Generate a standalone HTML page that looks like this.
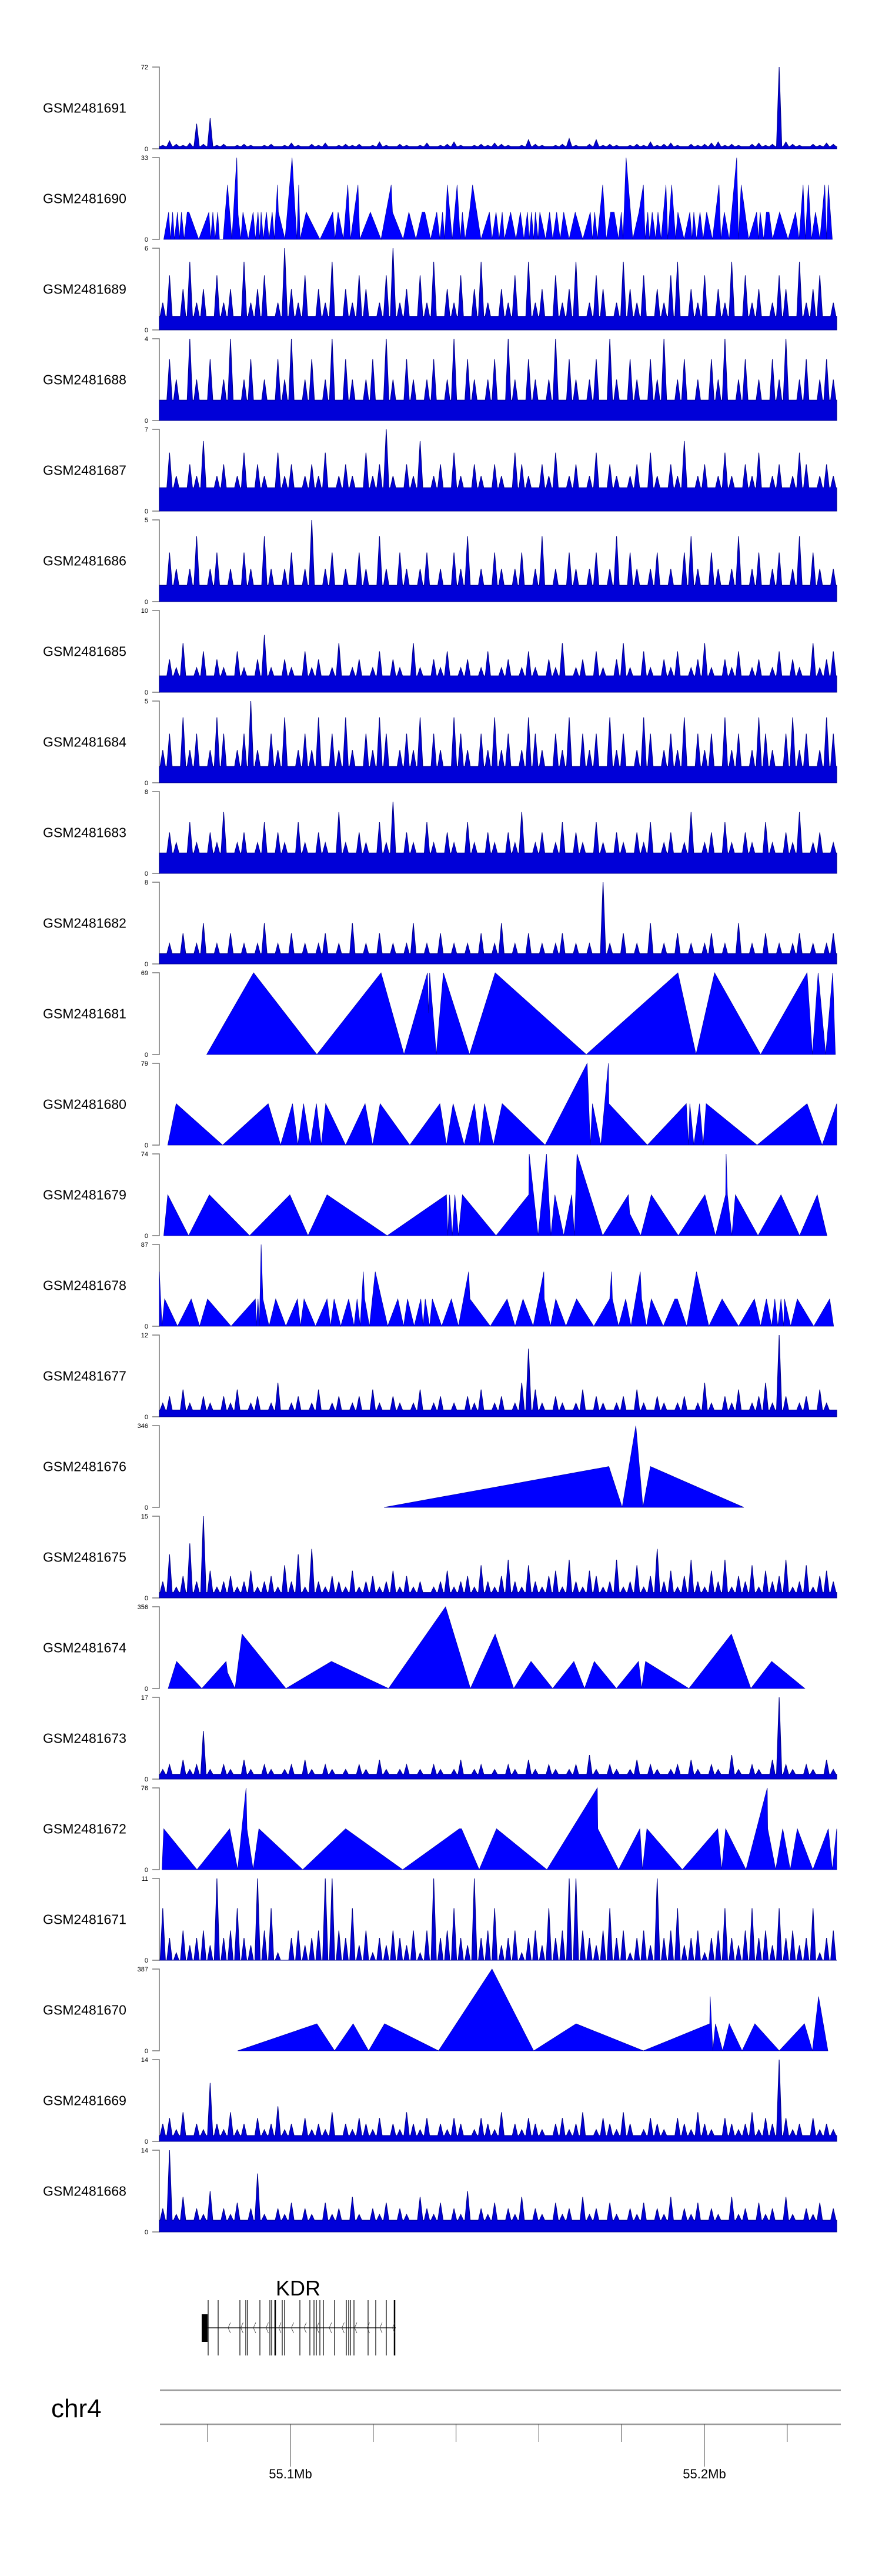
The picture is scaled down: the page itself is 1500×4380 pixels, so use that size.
<!DOCTYPE html>
<html><head><meta charset="utf-8">
<style>
html,body{margin:0;padding:0;background:#fff;}
svg{display:block;font-family:"Liberation Sans",Arial,sans-serif;}
</style></head>
<body>
<svg id="chart" width="1500" height="4380" viewBox="0 0 1500 4380" xmlns="http://www.w3.org/2000/svg">
<rect width="1500" height="4380" fill="#fff"/>
<g id="tracks"></g>
<g id="gene">
  <text x="507" y="3903" font-size="36" text-anchor="middle">KDR</text>
</g>
<g id="axis">
  <text x="87" y="4110" font-size="44">chr4</text>
  <line x1="272" y1="4064" x2="1430" y2="4064" stroke="#999" stroke-width="2.5"/>
  <line x1="272" y1="4122" x2="1430" y2="4122" stroke="#999" stroke-width="2.5"/>
</g>
</svg>
<script>
// ---------- data ----------
var trackNames = ["GSM2481691","GSM2481690","GSM2481689","GSM2481688","GSM2481687","GSM2481686","GSM2481685","GSM2481684","GSM2481683","GSM2481682","GSM2481681","GSM2481680","GSM2481679","GSM2481678","GSM2481677","GSM2481676","GSM2481675","GSM2481674","GSM2481673","GSM2481672","GSM2481671","GSM2481670","GSM2481669","GSM2481668"];
var trackMax = [72,33,6,4,7,5,10,5,8,8,69,79,74,87,12,346,15,356,17,76,11,387,14,14];
var posDomain = [14,1545];

var v1691 = [3,7,4,3,5,22,4,27,3,4,2,3,4,3,2,3,4,2,3,5,3,2,4,3,5,2,3,4,3,4,2,3,6,3,2,4,3,2,3,5,2,3,4,6,3,2,3,4,3,5,4,3,2,3,8,4,3,2,3,4,9,3,2,4,8,3,4,3,2,3,4,3,6,3,4,5,3,2,4,3,4,5,6,3,4,3,2,4,5,3,4,72,6,4,3,2,4,3,5,4];
var p1690 = [24,35,39,44,48,55,59,64,70,77,81,103,126,130,135,140,146,150,158,168,178,189,192,198,203,215,226,231,237,241,244,249,256,262,269,274,281,283,298,314,321,325,329,332,346,377,406,411,418,430,440,446,463,467,491,515,538,541,565,578,594,608,614,627,641,648,654,659,665,676,687,694,699,705,715,722,741,760,766,775,782,789,794,808,820,830,838,846,850,855,860,864,870,874,887,896,903,912,920,928,940,954,971,988,993,998,1004,1010,1016,1024,1034,1042,1052,1058,1062,1069,1084,1098,1108,1112,1118,1122,1128,1136,1141,1148,1159,1163,1172,1181,1186,1200,1213,1218,1222,1228,1236,1243,1251,1264,1279,1283,1291,1302,1319,1323,1329,1346,1364,1368,1372,1380,1386,1392,1400,1416,1435,1452,1460,1469,1474,1481,1488,1497,1507,1518,1522,1526,1535];
var v1690 = [0,11,0,11,0,11,0,11,0,11,11,0,11,0,11,0,11,0,0,22,0,33,10,0,11,0,11,0,11,0,11,0,11,0,11,0,22,11,0,33,11,0,22,0,11,0,11,0,11,0,22,0,22,0,11,0,22,11,0,11,0,11,11,0,11,0,11,0,22,0,22,0,11,0,11,22,0,11,0,11,0,11,0,11,0,11,0,11,0,11,0,11,0,11,0,11,0,11,0,11,0,11,0,11,0,11,0,11,22,0,11,11,0,11,0,33,0,11,22,0,11,0,11,0,11,0,22,0,22,0,11,0,11,0,11,0,11,0,11,0,22,0,11,0,33,0,22,0,11,0,11,0,11,11,0,11,0,11,0,22,0,22,0,11,0,22,0,22,0];
var v1689 = [2,4,1,3,5,2,3,1,4,2,3,1,5,2,3,4,1,2,6,3,2,4,1,3,2,5,1,3,2,4,3,1,2,4,6,2,3,1,4,2,5,1,3,2,4,1,3,5,2,1,3,2,4,1,5,2,3,1,4,2,3,5,1,2,4,3,1,2,5,3,2,4,1,3,2,4,5,1,3,2,4,1,3,2,5,1,4,2,3,1,2,4,3,1,5,2,3,4,1,2];
var v1688 = [1,3,2,1,4,2,1,3,1,2,4,1,2,3,1,2,1,3,2,4,1,2,3,1,2,4,1,3,2,1,2,3,1,4,2,1,3,2,1,2,3,1,2,4,1,3,2,1,2,3,1,4,2,1,3,2,1,2,4,1,3,2,1,2,3,1,4,2,1,3,2,1,3,2,4,1,2,3,1,2,1,3,2,4,1,2,3,1,2,1,3,2,4,1,2,3,1,2,3,2];
var v1687 = [2,5,3,2,4,3,6,2,3,4,2,3,5,2,4,3,2,5,3,4,2,3,4,3,5,2,3,4,3,2,5,3,4,7,3,2,4,3,6,2,3,4,2,5,3,2,4,3,2,4,3,2,5,4,3,2,4,3,5,2,3,4,2,3,5,2,4,3,2,3,4,2,5,3,2,4,3,6,2,3,4,2,3,5,3,2,4,3,5,2,3,4,2,3,5,4,2,3,4,3];
var v1686 = [1,3,2,1,2,4,1,2,3,1,2,1,3,2,1,4,2,1,2,3,1,2,5,1,2,3,1,2,1,3,2,1,4,2,1,3,2,1,2,3,1,2,1,3,2,4,1,2,1,3,2,1,2,3,1,2,4,1,2,1,3,2,1,2,3,1,2,4,1,3,2,1,2,3,1,2,1,3,4,2,1,3,2,1,2,4,1,2,3,1,2,3,1,2,4,1,3,2,1,2];
var v1685 = [2,4,3,6,2,3,5,2,4,3,2,5,3,2,4,7,3,2,4,3,2,5,3,4,2,3,6,2,3,4,2,3,5,2,4,3,2,6,3,2,4,3,5,2,3,4,2,3,5,2,3,4,2,3,5,3,2,4,3,6,2,3,4,2,5,3,2,4,6,3,2,5,3,2,4,3,5,2,3,4,6,3,2,4,3,5,2,3,4,2,3,5,2,4,3,2,6,3,4,5];
var v1684 = [2,3,1,4,2,3,1,2,4,3,1,2,3,5,2,1,3,2,4,1,2,3,2,4,1,3,2,4,2,1,3,2,4,3,1,2,3,2,4,1,3,2,1,4,3,2,1,3,2,4,2,3,1,2,4,3,2,1,3,2,4,1,3,2,3,1,4,2,3,1,2,4,3,1,2,3,2,4,1,3,2,3,1,4,2,3,1,2,4,3,2,1,3,4,2,3,1,2,4,3];
var v1683 = [2,4,3,2,5,3,2,4,3,6,2,3,4,2,3,5,2,4,3,2,5,3,2,4,3,2,6,3,2,4,3,2,5,3,7,2,4,3,2,5,3,2,4,3,2,5,3,2,4,3,2,4,3,6,2,3,4,2,3,5,2,4,3,2,5,3,2,4,3,2,4,3,5,2,3,4,2,3,6,2,3,4,2,5,3,2,4,3,2,5,3,2,4,3,6,2,3,4,2,3];
var v1682 = [1,2,1,3,1,2,4,1,2,1,3,1,2,1,2,4,1,2,1,3,1,2,1,2,3,1,2,1,4,1,2,1,3,1,2,1,2,4,1,2,1,3,1,2,1,2,1,3,1,2,4,1,2,1,3,1,2,1,2,3,1,2,1,2,1,8,2,1,3,1,2,1,4,1,2,1,3,1,2,1,2,3,1,2,1,4,1,2,1,3,1,2,1,2,3,1,2,1,2,3];
var p1681 = [121,227,370,515,567,620,622,625,640,656,715,773,979,1186,1227,1269,1373,1478,1490,1503,1520,1536,1542];
var v1681 = [0,69,0,69,0,69,35,69,0,69,0,69,0,69,0,69,0,69,0,69,0,69,0];
var p1680 = [33,52,157,260,288,315,327,340,355,369,380,390,435,479,496,513,580,648,663,678,703,726,738,749,769,789,886,981,988,993,1012,1029,1030,1117,1205,1210,1213,1222,1235,1243,1250,1365,1478,1512,1545];
var v1680 = [0,40,0,40,0,40,0,40,0,40,0,40,0,40,0,40,0,40,0,40,0,40,0,40,0,40,0,79,0,40,0,79,40,0,40,0,40,0,40,0,40,0,40,0,40];
var p1679 = [24,33,80,127,218,309,350,393,529,663,666,670,676,682,690,699,775,849,850,870,889,899,908,928,946,952,958,1016,1074,1077,1102,1126,1187,1247,1271,1294,1295,1298,1308,1316,1367,1419,1461,1501,1523];
var v1679 = [0,37,0,37,0,37,0,37,0,37,0,37,0,37,0,37,0,37,74,0,74,0,37,0,37,0,74,0,37,20,0,37,0,37,0,37,74,37,0,37,0,37,0,37,0];
var p1678 = [14,20,26,55,86,105,123,176,231,233,237,240,244,246,248,262,277,300,326,333,341,367,393,401,409,424,442,454,461,468,475,478,489,502,530,553,566,575,590,605,610,615,625,631,652,674,690,713,716,762,800,818,836,859,883,884,898,910,933,957,996,1032,1036,1038,1052,1068,1080,1101,1104,1115,1126,1153,1179,1185,1206,1228,1256,1286,1323,1359,1373,1386,1398,1405,1412,1419,1425,1427,1441,1456,1493,1529,1538];
var v1678 = [58,0,29,0,29,0,29,0,29,0,29,0,87,58,29,0,29,0,29,0,29,0,29,0,29,0,29,0,29,0,58,29,0,58,0,29,0,29,0,29,0,29,0,29,0,29,0,58,29,0,29,0,29,0,58,29,0,29,0,29,0,29,58,29,0,29,0,58,29,0,29,0,29,29,0,58,0,29,0,29,0,29,0,29,0,29,0,29,0,29,0,29,0];
var v1677 = [2,3,1,4,2,1,3,2,1,3,2,4,1,2,3,1,2,5,1,2,3,1,2,4,1,2,3,1,2,3,1,4,2,1,3,2,1,2,4,1,2,3,1,2,1,3,2,4,1,2,3,1,2,5,10,4,2,1,3,2,1,2,4,1,3,2,1,2,3,1,4,2,1,3,2,1,2,3,1,2,5,2,1,3,2,4,1,2,3,5,2,12,3,1,2,3,1,4,2,1];
var p1676 = [522,1030,1060,1091,1107,1124,1335];
var v1676 = [0,173,0,346,0,173,0];
var v1675 = [3,8,2,4,10,3,15,5,2,3,4,2,3,5,2,3,4,2,6,3,8,2,9,3,2,4,3,2,5,2,3,4,2,3,5,2,4,2,3,1,2,3,5,2,3,4,2,6,3,2,4,7,3,2,6,3,2,4,5,2,7,3,2,5,4,2,3,7,2,3,6,2,4,9,3,5,2,4,7,3,2,5,3,7,2,4,3,6,2,5,3,4,7,2,3,6,2,4,5,3];
var p1674 = [34,53,110,165,168,185,201,300,403,532,661,717,773,815,854,903,951,975,997,1047,1097,1104,1113,1211,1307,1351,1398,1473];
var v1674 = [0,118,0,118,70,0,237,0,118,0,356,0,237,0,118,0,118,0,118,0,118,0,118,0,237,0,118,0];
var v1673 = [2,3,1,4,2,3,10,2,1,3,2,1,4,2,1,3,2,1,2,3,1,4,2,1,3,2,1,2,1,3,2,1,4,2,1,2,3,1,2,1,3,2,1,2,4,1,2,3,1,2,1,3,2,1,4,2,1,3,2,1,2,3,1,5,2,1,3,2,1,2,4,1,3,2,1,2,3,1,4,2,1,3,2,1,5,2,1,3,2,1,4,17,3,2,1,3,2,1,4,2];
var p1672 = [20,24,99,173,191,210,212,226,239,338,435,564,692,697,737,776,890,1004,1005,1052,1100,1106,1116,1196,1276,1285,1294,1340,1388,1389,1407,1423,1440,1456,1491,1526,1535,1545];
var v1672 = [0,38,0,38,0,76,38,0,38,0,38,0,38,38,0,38,0,76,38,0,38,0,38,0,38,0,38,0,76,38,0,38,0,38,0,38,0,38];
var v1671 = [7,3,1,4,2,3,4,2,11,3,4,7,3,2,11,4,7,1,0,3,4,2,3,4,11,11,4,3,7,2,4,1,3,2,4,3,2,4,1,4,11,3,4,7,3,2,11,3,4,7,2,3,4,1,3,4,2,7,3,4,11,11,4,3,2,4,7,3,4,1,3,4,2,11,3,4,7,2,3,4,1,3,4,7,3,2,4,7,3,4,2,7,3,4,2,3,7,1,3,4];
var p1670 = [191,370,410,452,487,523,645,766,860,956,1108,1258,1259,1262,1265,1271,1287,1302,1331,1360,1415,1472,1490,1504,1525];
var v1670 = [0,128,0,128,0,128,0,387,0,128,0,128,257,128,0,128,0,128,0,128,0,128,0,257,0];
var v1669 = [3,4,2,5,1,3,2,10,3,2,5,2,3,1,4,2,3,6,2,3,1,4,2,3,2,5,1,3,2,4,3,2,4,1,3,2,5,3,2,4,1,3,2,4,3,1,2,4,3,2,5,1,3,2,4,3,2,1,3,4,2,3,5,1,2,4,3,2,5,3,1,2,4,3,2,1,4,3,2,5,3,2,1,4,3,2,3,5,2,4,3,14,4,2,3,1,4,2,3,2];
var v1668 = [4,14,3,6,2,4,3,7,2,4,3,5,2,4,10,3,2,4,3,5,2,4,3,2,5,3,4,2,6,3,2,4,3,5,2,4,3,2,6,4,3,5,2,4,3,7,2,4,3,5,2,4,3,6,2,4,3,2,5,3,4,2,6,3,4,2,5,3,2,4,3,5,2,4,3,6,2,4,3,5,2,4,3,2,6,3,4,2,5,3,4,2,6,3,2,4,3,5,2,4];

var exonPositions = [354,371,408,418,421,442,459,462,468,480,484,510,527,534,538,544,550,569,589,593,596,602,626,639,657,671];
var axisTicksMb = [55.08,55.10,55.12,55.14,55.16,55.18,55.20,55.22];
var axisLabelsMb = ["55.1Mb","55.2Mb"];
var axisLabelValues = [55.10,55.20];

// ---------- helpers ----------
var NS = "http://www.w3.org/2000/svg";
var PX0 = 271, PX1 = 1423, TOP0 = 114, PITCH = 154, PH = 139;
var SPIKE_HALF = 4.5;
function xScale(p){ return PX0 + (p - posDomain[0]) / (posDomain[1] - posDomain[0]) * (PX1 - PX0); }
function yScale(v, max, trackTop){ return trackTop + PH - v / max * PH; }
function mbScale(mb){ return 494 + (mb - 55.1) * 7040; }
function mk(tag, attrs){ var e = document.createElementNS(NS, tag); for (var k in attrs) e.setAttribute(k, attrs[k]); return e; }
function binPositions(vals){ var n = vals.length, out = []; for (var i = 0; i < n; i++) out.push(posDomain[0] + (i + 0.5) / n * (posDomain[1] - posDomain[0])); return out; }

var series = [
  [null, v1691],[p1690, v1690],[null, v1689],[null, v1688],[null, v1687],[null, v1686],
  [null, v1685],[null, v1684],[null, v1683],[null, v1682],[p1681, v1681],[p1680, v1680],
  [p1679, v1679],[p1678, v1678],[null, v1677],[p1676, v1676],[null, v1675],[p1674, v1674],
  [null, v1673],[p1672, v1672],[null, v1671],[p1670, v1670],[null, v1669],[null, v1668]
];

function drawAll() {
  var tracks = document.getElementById('tracks');
  for (var t = 0; t < trackNames.length; t++) {
    var trackTop = TOP0 + PITCH * t, base = trackTop + PH, max = trackMax[t];
    var g = mk('g', {});
    
    
    tracks.appendChild(g);

    var lab = mk('text', {x: 73, y: trackTop + PH/2 + 8, 'font-size': 23, fill: '#000'});
    lab.textContent = trackNames[t];
    
    
    g.appendChild(lab);

    var ax = mk('path', {d: 'M259,' + trackTop + 'H271V' + base + 'H259', fill: 'none', stroke: '#777', 'stroke-width': 1.5});
    
    
    g.appendChild(ax);

    var tMax = mk('text', {x: 252, y: trackTop + 4, 'font-size': 11, 'text-anchor': 'end', fill: '#000'});
    tMax.textContent = String(max);
    
    
    g.appendChild(tMax);
    var tMin = mk('text', {x: 252, y: base + 4, 'font-size': 11, 'text-anchor': 'end', fill: '#000'});
    tMin.textContent = '0';
    
    
    g.appendChild(tMin);

    var vals = series[t][1];
    var isNoisy = !series[t][0];
    var pos = series[t][0] || binPositions(vals);
    var pts = [xScale(pos[0]).toFixed(1) + ',' + base];
    if (isNoisy) {
      var lo = Math.min.apply(null, vals);
      var yLo = yScale(lo, max, trackTop).toFixed(1);
      pts = [PX0 + ',' + base, PX0 + ',' + yLo];
      for (var i = 0; i < vals.length; i++) {
        var xc = xScale(pos[i]);
        pts.push((xc - SPIKE_HALF).toFixed(1) + ',' + yLo);
        pts.push(xc.toFixed(1) + ',' + yScale(vals[i], max, trackTop).toFixed(1));
        pts.push((xc + SPIKE_HALF).toFixed(1) + ',' + yLo);
      }
      pts.push(PX1 + ',' + yLo);
      pts.push(PX1 + ',' + base);
    } else {
      for (var j = 0; j < vals.length; j++) pts.push(xScale(pos[j]).toFixed(1) + ',' + yScale(vals[j], max, trackTop).toFixed(1));
      pts.push(xScale(pos[pos.length - 1]).toFixed(1) + ',' + base);
    }
    var poly = mk('polygon', {points: pts.join(' '), fill: isNoisy ? '#0000d8' : '#0000ff', stroke: isNoisy ? '#00008b' : '#0000a0', 'stroke-width': isNoisy ? 1.1 : 0.7});
    
    
    g.appendChild(poly);
  }

  var gene = document.getElementById('gene');
  var gl = mk('line', {x1: 343, y1: 3958, x2: 673, y2: 3958, stroke: '#000', 'stroke-width': 1.2});
  
  
  gene.appendChild(gl);
  var utr = mk('rect', {x: 343, y: 3935, width: 10, height: 47, fill: '#000'});
  
  
  gene.appendChild(utr);
  for (var e = 0; e < exonPositions.length; e++) {
    var ex = mk('line', {x1: exonPositions[e], y1: 3911, x2: exonPositions[e], y2: 4005, stroke: '#000', 'stroke-width': (e === 8 || e === exonPositions.length - 1) ? 2.5 : 1.2});
    
    
    gene.appendChild(ex);
  }
  for (var c = 0; c < 14; c++) {
    var cx = 388 + c * 21.5;
    var ch = mk('path', {d: 'M' + (cx + 4) + ',3949L' + cx + ',3958L' + (cx + 4) + ',3967', fill: 'none', stroke: '#333', 'stroke-width': 0.8});
    
    
    gene.appendChild(ch);
  }

  var axis = document.getElementById('axis');
  for (var k = 0; k < axisTicksMb.length; k++) {
    var xx = mbScale(axisTicksMb[k]);
    var major = false;
    for (var q = 0; q < axisLabelValues.length; q++) if (Math.abs(axisLabelValues[q] - axisTicksMb[k]) < 1e-9) major = true;
    var tk = mk('line', {x1: xx, y1: 4122, x2: xx, y2: major ? 4194 : 4152, stroke: '#444', 'stroke-width': 1});
    
    
    axis.appendChild(tk);
  }
  for (var m = 0; m < axisLabelsMb.length; m++) {
    var tl = mk('text', {x: mbScale(axisLabelValues[m]), y: 4214, 'font-size': 22, 'text-anchor': 'middle', fill: '#000'});
    tl.textContent = axisLabelsMb[m];
    
    
    axis.appendChild(tl);
  }
}
drawAll();
</script>
</body></html>
